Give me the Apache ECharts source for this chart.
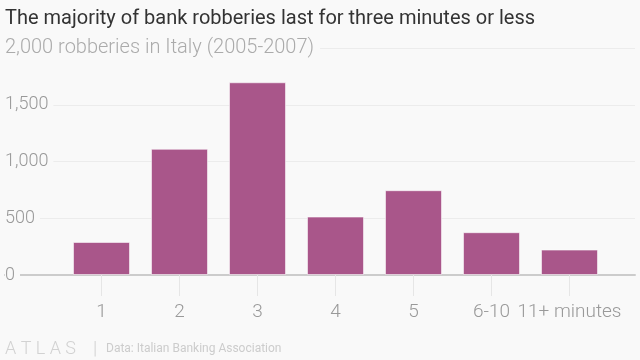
<!DOCTYPE html>
<html>
<head>
<meta charset="utf-8">
<script src="https://cdn.jsdelivr.net/npm/echarts@6/dist/echarts.min.js"></script>
<style>
html,body{margin:0;padding:0;background:#f9f9f9;}
#chart{width:640px;height:360px;}
</style>
</head>
<body>
<div id="chart"></div>
<script>
var categories = ['1', '2', '3', '4', '5', '6-10', '11+ minutes'];
var robberies = [291, 1112, 1698, 515, 747, 377, 224];
var yTicks = [0, 500, 1000, 1500, 2000];

var titleText = 'The majority of bank robberies last for three minutes or less';
var subtitleText = '2,000 robberies in Italy (2005-2007)';
var sourceText = 'Data: Italian Banking Association';

var FONT = 'Roboto, "Open Sans", sans-serif';
var chart = echarts.init(document.getElementById('chart'), null, {renderer: 'canvas'});

function fmt(v) { return v.toLocaleString('en-US'); }

var option = {
  backgroundColor: '#f9f9f9',
  animation: false,
  title: [
    {
      text: titleText, left: 5, top: 7, padding: 0,
      textStyle: {fontFamily: FONT, fontSize: 20, fontWeight: 400, color: '#333333', lineHeight: 24}
    },
    {
      text: subtitleText, left: 5, top: 36, padding: [0, 6, 0, 0],
      backgroundColor: '#f9f9f9', z: 10,
      textStyle: {fontFamily: FONT, fontSize: 20, fontWeight: 300, color: '#ababab', lineHeight: 23}
    },
    {
      text: 'A T L A S', left: 5, top: 339, padding: 0,
      textStyle: {fontFamily: FONT, fontSize: 18, fontWeight: 300, color: '#d2d2d2', lineHeight: 20}
    },
    {
      text: '|', left: 93, top: 338, padding: 0,
      textStyle: {fontFamily: FONT, fontSize: 19, fontWeight: 300, color: '#d2d2d2', lineHeight: 22}
    },
    {
      text: sourceText, left: 106, top: 341, padding: 0,
      textStyle: {fontFamily: FONT, fontSize: 12, fontWeight: 400, color: '#cccccc', lineHeight: 15}
    }
  ],
  grid: [
    {left: 5, right: 5, top: 48, bottom: 85},
    {left: 62.5, right: 31.5, top: 48, bottom: 85}
  ],
  xAxis: [
    {
      gridIndex: 0, type: 'value', min: 0, max: 1,
      axisLine: {show: true, onZero: false, lineStyle: {color: '#cccccc', width: 2}},
      axisTick: {show: false}, axisLabel: {show: false}, splitLine: {show: false}
    },
    {
      gridIndex: 1, type: 'category', data: categories,
      axisLine: {show: false},
      axisTick: {show: true, alignWithLabel: true, length: 21, lineStyle: {color: '#e6e6e6', width: 1}},
      axisLabel: {color: '#999999', fontFamily: FONT, fontSize: 19, fontWeight: 300, margin: 28, interval: 0},
      splitLine: {show: false}
    }
  ],
  yAxis: [
    {
      gridIndex: 0, type: 'value', min: yTicks[0], max: yTicks[yTicks.length - 1], interval: 500,
      axisLine: {show: false}, axisTick: {show: false},
      axisLabel: {
        inside: true, margin: 0, color: '#999999', fontFamily: FONT, fontSize: 18, fontWeight: 300,
        backgroundColor: '#f9f9f9', padding: [0, 5, 0, 0],
        formatter: function (v) { return (v === yTicks[yTicks.length - 1]) ? '' : fmt(v); }
      },
      splitLine: {show: true, lineStyle: {color: '#ececec', width: 1}}
    },
    {
      gridIndex: 1, type: 'value', min: yTicks[0], max: yTicks[yTicks.length - 1],
      show: false, splitLine: {show: false}
    }
  ],
  series: [
    {
      type: 'bar', xAxisIndex: 1, yAxisIndex: 1, data: robberies,
      barWidth: 57, z: 3,
      itemStyle: {color: '#a9568a', borderColor: 'rgba(255,255,255,0.55)', borderWidth: 1}
    }
  ]
};
chart.setOption(option);
</script>
</body>
</html>
